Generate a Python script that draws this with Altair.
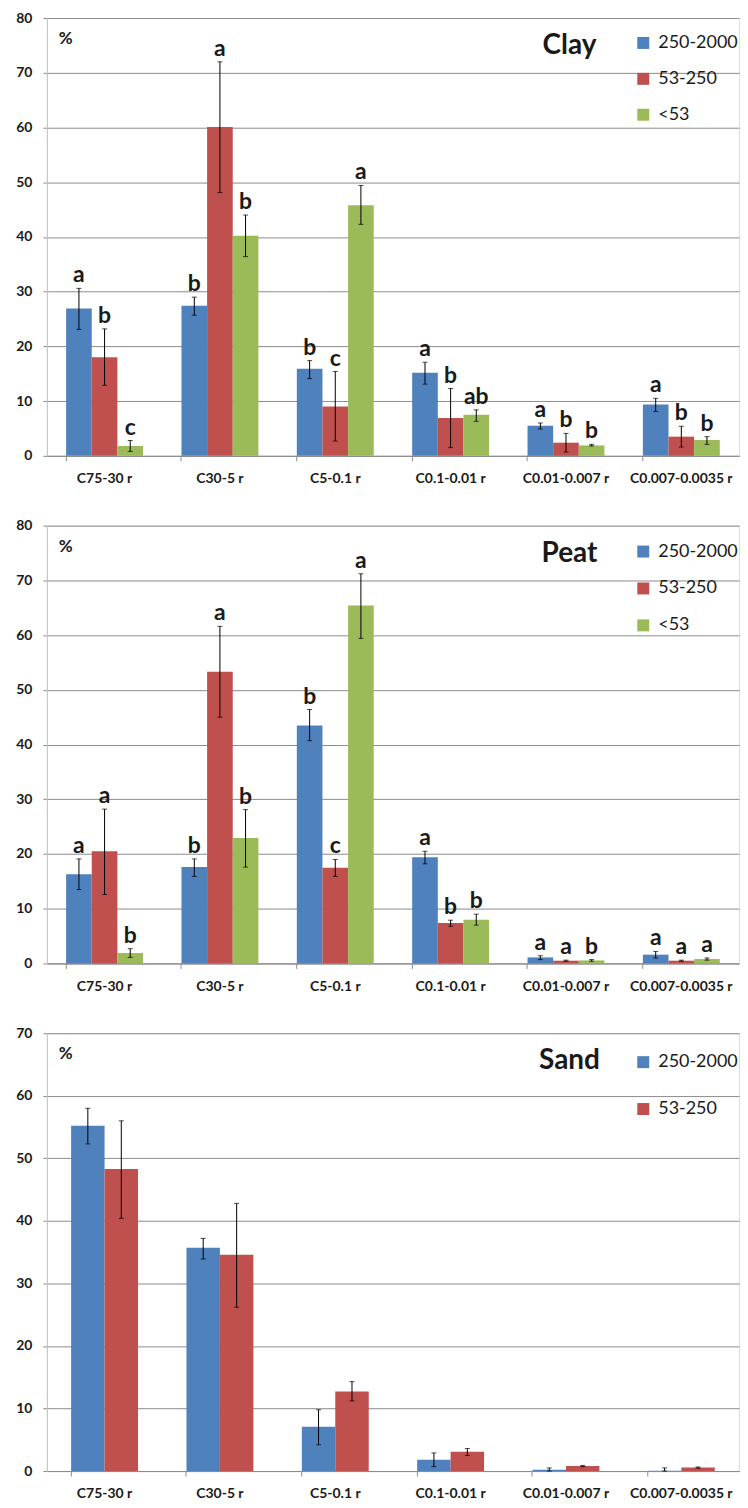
import altair as alt
import pandas as pd

categories = ["C75-30 r", "C30-5 r", "C5-0.1 r", "C0.1-0.01 r", "C0.01-0.007 r", "C0.007-0.0035 r"]
series = ["250-2000", "53-250", "<53"]
colors = ["#4F81BD", "#C0504D", "#9BBB59"]

# ---- Clay ----
clay_250 = [26.9, 27.4, 15.9, 15.2, 5.5, 9.4]
clay_250_lo = [23.1, 25.7, 14.1, 13.1, 4.9, 8.1]
clay_250_hi = [30.6, 29.0, 17.4, 17.1, 6.0, 10.5]
clay_53 = [18.0, 60.1, 9.0, 6.9, 2.4, 3.5]
clay_53_lo = [12.9, 48.1, 2.7, 1.5, 0.7, 1.6]
clay_53_hi = [23.2, 72.0, 15.4, 12.3, 4.1, 5.4]
clay_lt = [1.8, 40.2, 45.8, 7.5, 1.9, 2.9]
clay_lt_lo = [0.8, 36.4, 42.3, 6.3, 1.8, 2.1]
clay_lt_hi = [2.8, 44.0, 49.4, 8.4, 2.1, 3.5]
clay_let_250 = ["a", "b", "b", "a", "a", "a"]
clay_let_53 = ["b", "a", "c", "b", "b", "b"]
clay_let_lt = ["c", "b", "a", "ab", "b", "b"]

# ---- Peat ----
peat_250 = [16.3, 17.6, 43.5, 19.4, 1.1, 1.6]
peat_250_lo = [13.5, 15.9, 40.7, 18.2, 0.7, 1.0]
peat_250_hi = [19.1, 19.1, 46.4, 20.5, 1.4, 2.2]
peat_53 = [20.5, 53.3, 17.5, 7.4, 0.5, 0.5]
peat_53_lo = [12.6, 45.0, 15.9, 6.8, 0.4, 0.4]
peat_53_hi = [28.2, 61.6, 19.0, 7.9, 0.6, 0.6]
peat_lt = [1.9, 22.9, 65.4, 8.0, 0.55, 0.8]
peat_lt_lo = [1.1, 17.6, 59.4, 7.0, 0.4, 0.6]
peat_lt_hi = [2.7, 28.1, 71.2, 9.0, 0.7, 1.0]
peat_let_250 = ["a", "b", "b", "a", "a", "a"]
peat_let_53 = ["a", "a", "c", "b", "a", "a"]
peat_let_lt = ["b", "b", "a", "b", "b", "a"]

# ---- Sand ----
sand_250 = [55.2, 35.7, 7.1, 1.8, 0.2, 0.05]
sand_250_lo = [52.3, 33.9, 4.2, 0.7, 0.0, 0.0]
sand_250_hi = [58.0, 37.2, 9.8, 2.9, 0.5, 0.5]
sand_53 = [48.3, 34.6, 12.7, 3.1, 0.8, 0.55]
sand_53_lo = [40.4, 26.2, 11.2, 2.5, 0.7, 0.45]
sand_53_hi = [56.0, 42.8, 14.3, 3.6, 0.9, 0.65]

FONT = "Lato"
TXT = "#1a1a1a"
GRID = "#8c8c8c"
W = 694
H = 439


def frame(rows):
    recs = []
    for s, vals, lo, hi, lets in rows:
        for i, c in enumerate(categories):
            recs.append({"cat": c, "series": s, "value": vals[i], "lo": lo[i], "hi": hi[i],
                         "letter": lets[i] if lets else ""})
    return pd.DataFrame(recs)


def panel(df, name, ymax, ser, legend_y, row_pad, pad_inner):
    x = alt.X("cat:N", sort=categories, title=None,
              scale=alt.Scale(paddingInner=pad_inner, paddingOuter=pad_inner / 2),
              axis=alt.Axis(labelAngle=0, bandPosition=0, tickSize=5, tickColor=GRID,
                            domainColor=GRID, labelFont=FONT, labelFontWeight="bold",
                            labelFontSize=14, labelColor=TXT, labelPadding=11,
                            grid=False))
    xo = alt.XOffset("series:N", sort=ser, scale=alt.Scale(paddingInner=0, paddingOuter=0))
    y = alt.Y("value:Q", title=None,
              scale=alt.Scale(domain=[0, ymax], nice=False),
              axis=alt.Axis(values=list(range(0, ymax + 1, 10)), grid=True, gridColor=GRID,
                            tickSize=4, tickColor=GRID, domainColor="#c4c4c4",
                            labelFont=FONT, labelFontWeight="bold", labelFontSize=14,
                            labelColor=TXT, labelPadding=11, minExtent=38, maxExtent=38))
    color = alt.Color("series:N", sort=ser,
                      scale=alt.Scale(domain=ser, range=colors[:len(ser)]),
                      legend=alt.Legend(orient="none", legendX=589, legendY=legend_y,
                                        title=None, symbolType="square", symbolSize=144,
                                        symbolStrokeWidth=0, labelFont=FONT,
                                        labelFontSize=18, labelColor=TXT, labelOffset=6,
                                        rowPadding=row_pad, padding=0))
    base = alt.Chart(df)
    bars = base.mark_bar().encode(x=x, xOffset=xo, y=y, color=color)
    rule = base.mark_rule(color="#000", strokeWidth=1).encode(
        x=alt.X("cat:N", sort=categories, title=None),
        xOffset=alt.XOffset("series:N", sort=ser),
        y=alt.Y("lo:Q", title=None), y2="hi:Q")
    cap_lo = base.mark_tick(color="#000", size=5, thickness=1).encode(
        x=alt.X("cat:N", sort=categories, title=None),
        xOffset=alt.XOffset("series:N", sort=ser), y=alt.Y("lo:Q", title=None))
    cap_hi = base.mark_tick(color="#000", size=5, thickness=1).encode(
        x=alt.X("cat:N", sort=categories, title=None),
        xOffset=alt.XOffset("series:N", sort=ser), y=alt.Y("hi:Q", title=None))
    letters = base.mark_text(font=FONT, fontWeight="bold", fontSize=23, color=TXT,
                             baseline="alphabetic", dy=-6).encode(
        x=alt.X("cat:N", sort=categories, title=None),
        xOffset=alt.XOffset("series:N", sort=ser),
        y=alt.Y("hi:Q", title=None), text="letter:N")
    ttl = alt.Chart(pd.DataFrame({"t": [name]})).mark_text(
        font=FONT, fontWeight="bold", fontSize=28, color=TXT, baseline="middle", align="center"
    ).encode(x=alt.value(524), y=alt.value(28), text="t:N")
    pct = alt.Chart(pd.DataFrame({"t": ["%"]})).mark_text(
        font=FONT, fontWeight="bold", fontSize=17, color=TXT, baseline="middle", align="left"
    ).encode(x=alt.value(12), y=alt.value(21), text="t:N")
    return alt.layer(bars, rule, cap_lo, cap_hi, letters, ttl, pct).properties(width=W, height=H)


clay_df = frame([
    (series[0], clay_250, clay_250_lo, clay_250_hi, clay_let_250),
    (series[1], clay_53, clay_53_lo, clay_53_hi, clay_let_53),
    (series[2], clay_lt, clay_lt_lo, clay_lt_hi, clay_let_lt),
])
peat_df = frame([
    (series[0], peat_250, peat_250_lo, peat_250_hi, peat_let_250),
    (series[1], peat_53, peat_53_lo, peat_53_hi, peat_let_53),
    (series[2], peat_lt, peat_lt_lo, peat_lt_hi, peat_let_lt),
])
sand_df = frame([
    (series[0], sand_250, sand_250_lo, sand_250_hi, None),
    (series[1], sand_53, sand_53_lo, sand_53_hi, None),
])

p1 = panel(clay_df, "Clay", 80, series, 16, 18, 1 / 3)
p2 = panel(peat_df, "Peat", 80, series, 17, 19, 1 / 3)
p3 = panel(sand_df, "Sand", 70, series[:2], 20, 29, 0.42)

chart = alt.vconcat(p1, p2, p3, spacing=31).resolve_scale(
    color="independent", y="independent", x="independent", xOffset="independent"
).properties(padding={"left": 0, "top": 0, "right": 0, "bottom": 0}).configure_view(
    stroke=None
).configure(background="white")

chart.save("out.html", embed_options={"renderer": "svg", "actions": False})
